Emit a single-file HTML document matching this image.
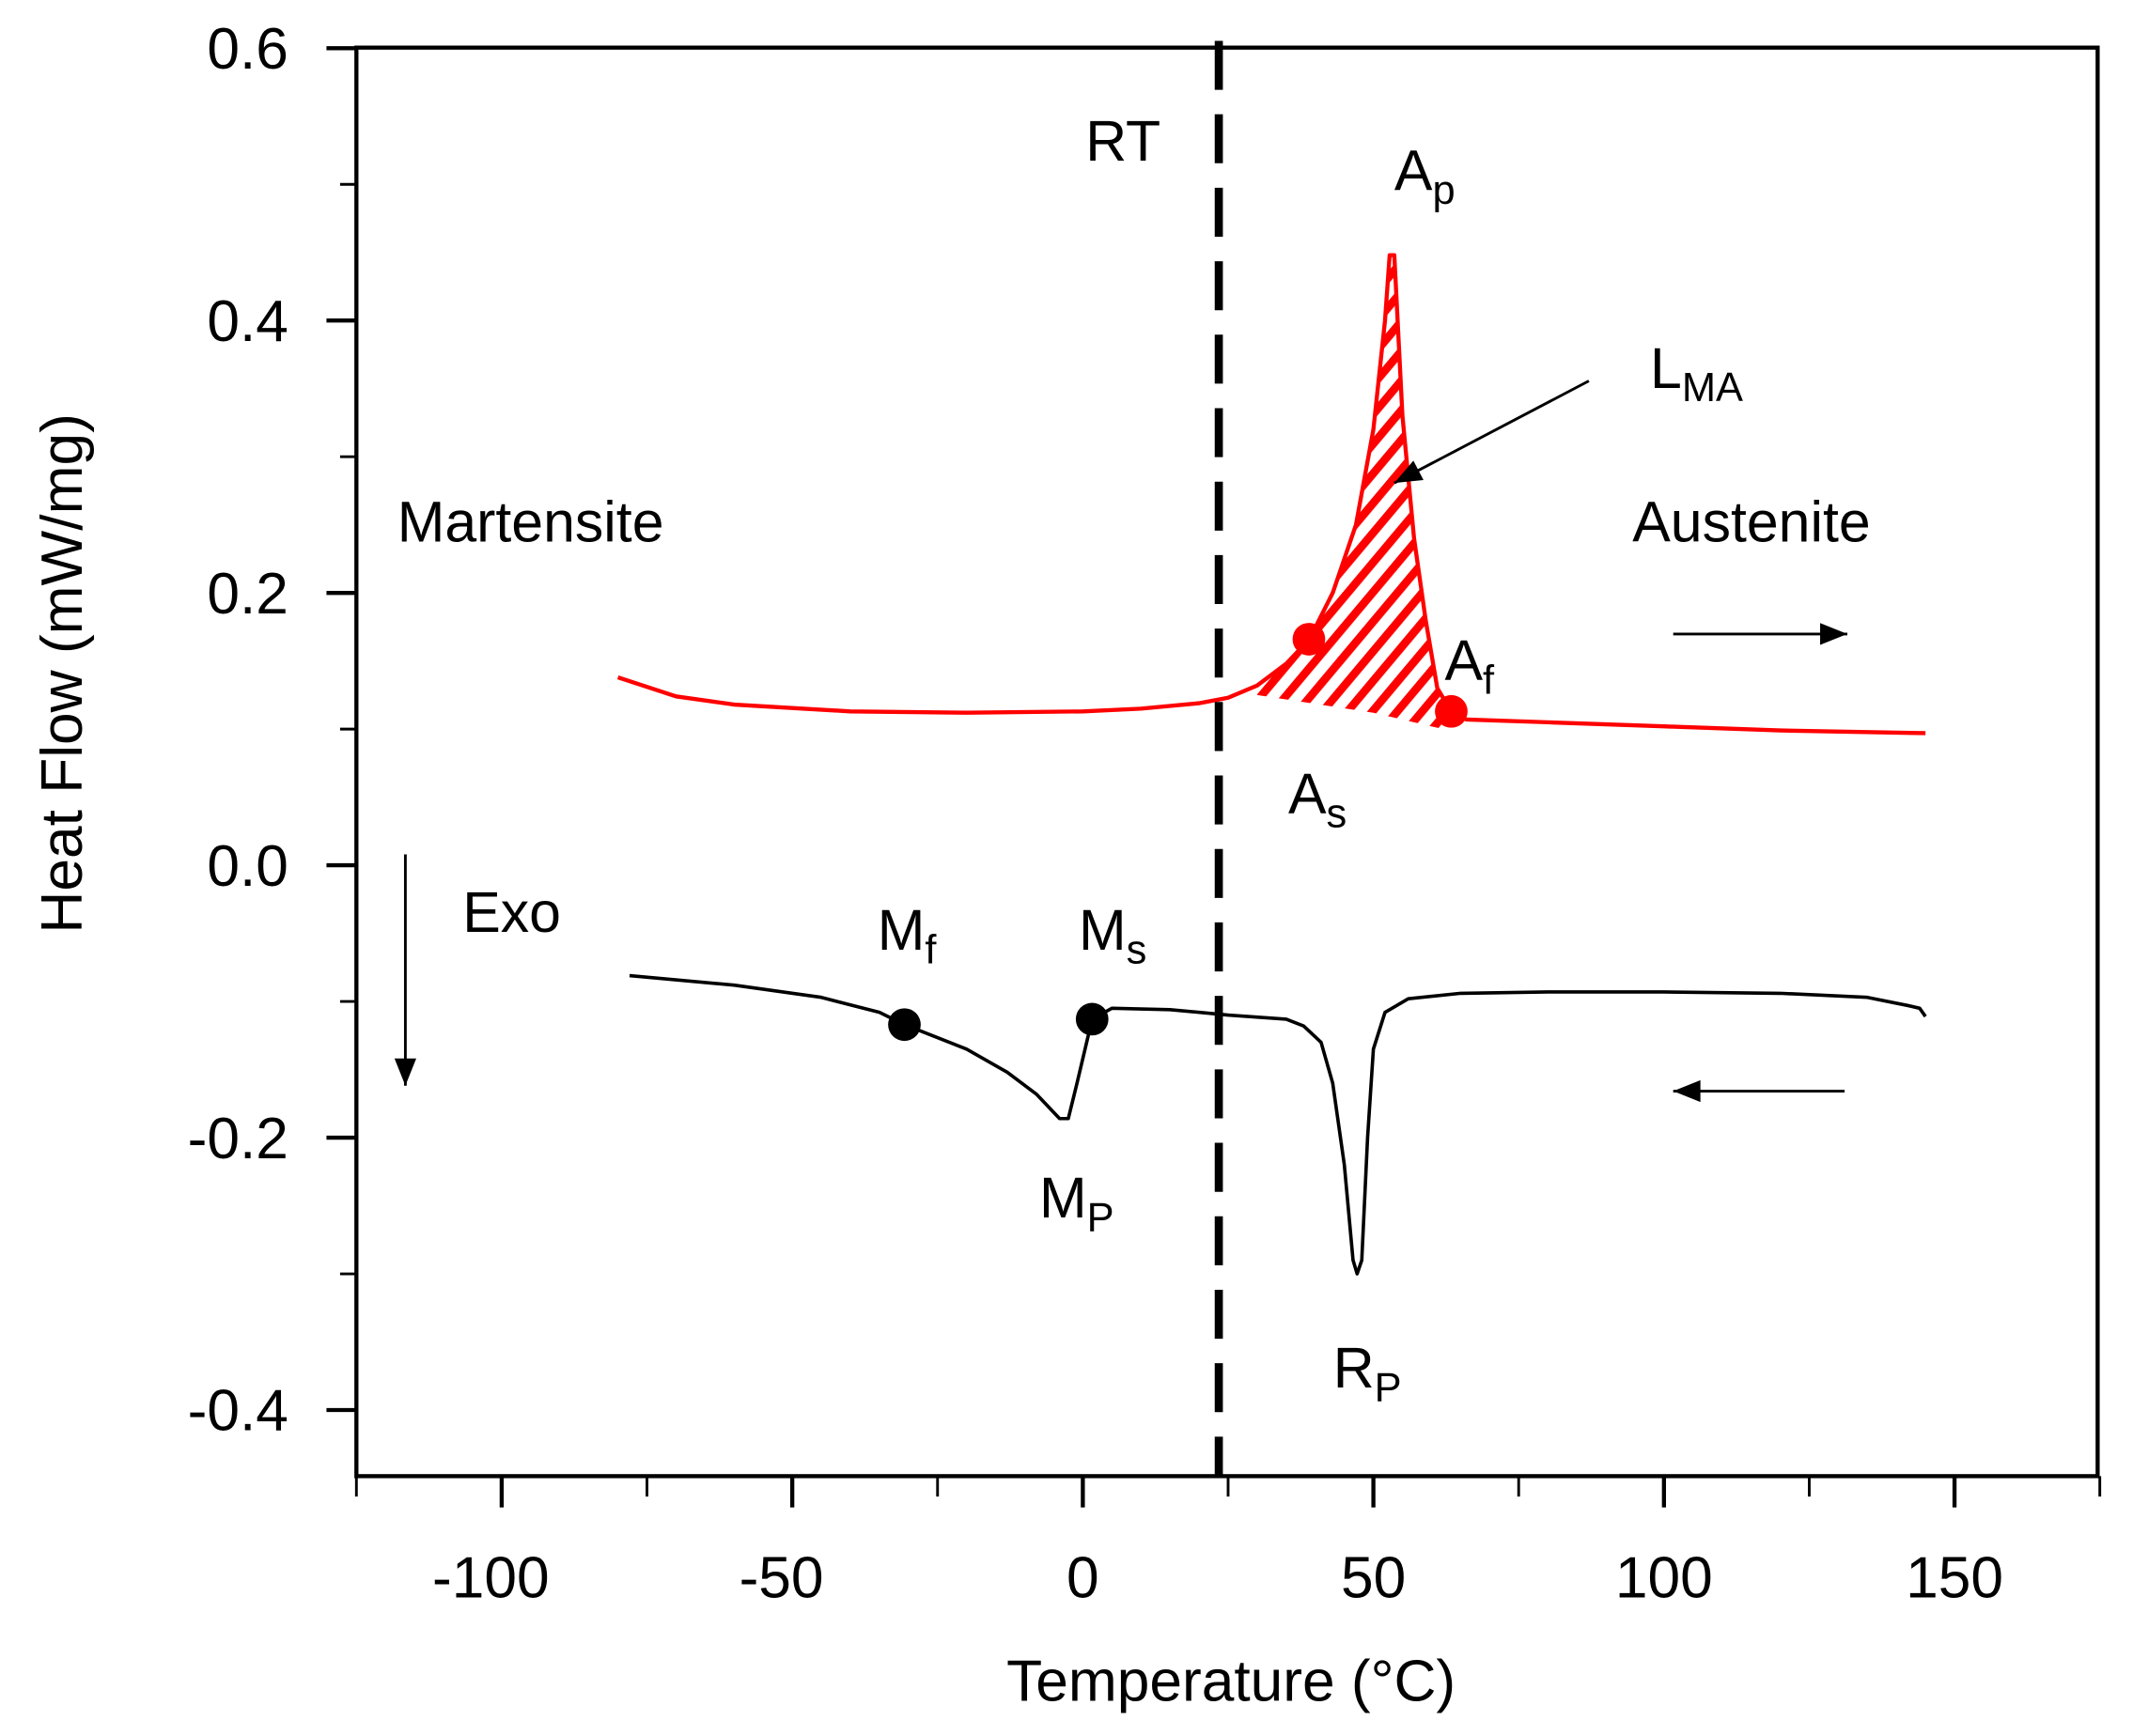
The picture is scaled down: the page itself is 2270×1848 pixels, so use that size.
<!DOCTYPE html>
<html><head><meta charset="utf-8"><style>
html,body{margin:0;padding:0;background:#fff;}
svg{display:block;font-family:"Liberation Sans",Arial,sans-serif;}
</style></head><body>
<svg id="chart" width="2270" height="1848" viewBox="0 0 1568 1276" preserveAspectRatio="none" xmlns="http://www.w3.org/2000/svg">
<defs>
<pattern id="hatch" patternUnits="userSpaceOnUse" width="14" height="14" patternTransform="rotate(40)">
<rect x="0" y="0" width="6" height="14" fill="#ff0000"/>
</pattern>
</defs>
<g id="axes"></g>
<g id="marks"></g>
<g id="annot"></g>
</svg>
<script>
const xTicks=[-100,-50,0,50,100,150];
const xMinorTicks=[-125,-75,-25,25,75,125,175];
const yTicks=[0.6,0.4,0.2,0.0,-0.2,-0.4];
const yTickLabels=["0.6","0.4","0.2","0.0","-0.2","-0.4"];
const yMinorTicks=[0.5,0.3,0.1,-0.1,-0.3];
const heatingT=[-80,-70,-60,-40,-20,0,10,20,25,30,35,39,43,47,50,52,52.8,53.6,55,57,59,61,63.4,66,80,100,120,145];
const heatingQ=[0.138,0.124,0.118,0.113,0.112,0.113,0.115,0.119,0.123,0.132,0.148,0.166,0.2,0.25,0.32,0.4,0.448,0.448,0.33,0.24,0.18,0.13,0.113,0.107,0.105,0.102,0.099,0.097];
const coolingT=[-78,-60,-45,-35,-30.7,-20,-13,-8,-4,-2.5,-1,1.6,5,15,25,35,38,41,43,45,46.5,47.2,48,49,50,52,56,65,80,100,120,135,142,144,145];
const coolingQ=[-0.081,-0.088,-0.097,-0.108,-0.117,-0.135,-0.152,-0.168,-0.186,-0.186,-0.16,-0.113,-0.105,-0.106,-0.11,-0.113,-0.118,-0.13,-0.16,-0.22,-0.29,-0.3,-0.29,-0.2,-0.135,-0.108,-0.098,-0.094,-0.093,-0.093,-0.094,-0.097,-0.103,-0.105,-0.111];
const redPointsT=[38.9,63.4];
const redPointsQ=[0.166,0.113];
const blackPointsT=[-30.7,1.6];
const blackPointsQ=[-0.117,-0.113];
const roomTemp=23.4;

const NS="http://www.w3.org/2000/svg";
const X=t=>796+(t)*4.272;
const Y=q=>636-q*1001;
function mk(tag,attrs,parent,text){const e=document.createElementNS(NS,tag);for(const k in attrs)e.setAttribute(k,attrs[k]);if(text!==undefined)e.textContent=text;parent.appendChild(e);return e;}
const axes=document.getElementById('axes'),marks=document.getElementById('marks'),annot=document.getElementById('annot');

let frame=mk('rect',{x:262,y:35,width:1280,height:1050,fill:'none',stroke:'#000','stroke-width':3},axes);


xTicks.forEach(t=>{
 let l=mk('line',{x1:X(t),x2:X(t),y1:1085,y2:1108,stroke:'#000','stroke-width':3},axes);
 
 
 let tx=mk('text',{x:X(t)-(t<0?8:0),y:1174,'font-size':43,'text-anchor':'middle'},axes,String(t));
 
 
});
xMinorTicks.forEach(t=>{
 let l=mk('line',{x1:X(t),x2:X(t),y1:1085,y2:1100,stroke:'#000','stroke-width':2},axes);
 
 
});
yTicks.forEach((q,i)=>{
 let l=mk('line',{x1:240,x2:262,y1:Y(q),y2:Y(q),stroke:'#000','stroke-width':3},axes);
 
 
 let tx=mk('text',{x:212,y:Y(q)+15,'font-size':43,'text-anchor':'end'},axes,yTickLabels[i]);
 
 
});
yMinorTicks.forEach(q=>{
 let l=mk('line',{x1:250,x2:262,y1:Y(q),y2:Y(q),stroke:'#000','stroke-width':2},axes);
 
 
});
let xt=mk('text',{x:905,y:1250,'font-size':43,'text-anchor':'middle'},axes,'Temperature (°C)');


let yt=mk('text',{x:0,y:0,'font-size':43,'text-anchor':'middle',transform:'translate(60,495) rotate(-90)'},axes,'Heat Flow (mW/mg)');



let hp=[];
heatingT.forEach((t,i)=>{if(t>=30&&t<=63.4)hp.push(X(t)+','+Y(heatingQ[i]));});
hp.push(X(62)+','+Y(0.1));hp.push(X(50)+','+Y(0.112));hp.push(X(30)+','+Y(0.125));
let hatch=mk('polygon',{points:hp.join(' '),fill:'url(#hatch)'},marks);



let rd=heatingT.map((t,i)=>X(t)+','+Y(heatingQ[i])).join(' ');
let rl=mk('polyline',{points:rd,fill:'none',stroke:'#ff0000','stroke-width':3,'stroke-linejoin':'round'},marks);


let bd=coolingT.map((t,i)=>X(t)+','+Y(coolingQ[i])).join(' ');
let bl=mk('polyline',{points:bd,fill:'none',stroke:'#000','stroke-width':2.5,'stroke-linejoin':'round'},marks);


redPointsT.forEach((t,i)=>{
 let c=mk('circle',{cx:X(t),cy:Y(redPointsQ[i]),r:12,fill:'#ff0000'},marks);
 
 
});
blackPointsT.forEach((t,i)=>{
 let c=mk('circle',{cx:X(t),cy:Y(blackPointsQ[i]),r:12,fill:'#000'},marks);
 
 
});
let rt=mk('line',{x1:X(roomTemp),x2:X(roomTemp),y1:30,y2:1085,stroke:'#000','stroke-width':6,'stroke-dasharray':'36,18'},marks);



function label(x,y,main,sub,name,size){
 let t=mk('text',{x:x,y:y,'font-size':size||42},annot);
 
 
 mk('tspan',{},t,main);
 if(sub){mk('tspan',{'font-size':30,dy:10},t,sub);}
}
label(798,118,'RT',null,'rt-label');
label(1025,140,'A','p','ap-label');
label(1213,285,'L','MA','lma-label');
label(292,398,'Martensite',null,'martensite-label');
label(1200,398,'Austenite',null,'austenite-label');
label(947,598,'A','s','as-label');
label(1062,500,'A','f','af-label');
label(340,685,'Exo',null,'exo-label');
label(645,698,'M','f','mf-label');
label(793,698,'M','s','ms-label');
label(764,895,'M','P','mp-label');
label(980,1020,'R','P','rp-label');

function arrow(x1,y1,x2,y2,name){
 let l=mk('line',{x1:x1,y1:y1,x2:x2,y2:y2,stroke:'#000','stroke-width':2},annot);
 
 
 const ang=Math.atan2(y2-y1,x2-x1),L=20,W=8;
 const bx=x2-L*Math.cos(ang),by=y2-L*Math.sin(ang);
 let h=mk('polygon',{points:`${x2},${y2} ${bx+W*Math.sin(ang)},${by-W*Math.cos(ang)} ${bx-W*Math.sin(ang)},${by+W*Math.cos(ang)}`,fill:'#000'},annot);
 
 
}
arrow(1230,466,1358,466,'heating-direction-arrow');
arrow(1356,802,1230,802,'cooling-direction-arrow');
arrow(298,628,298,798,'exo-arrow');
arrow(1168,280,1025,355,'lma-arrow');
</script>
</body></html>
